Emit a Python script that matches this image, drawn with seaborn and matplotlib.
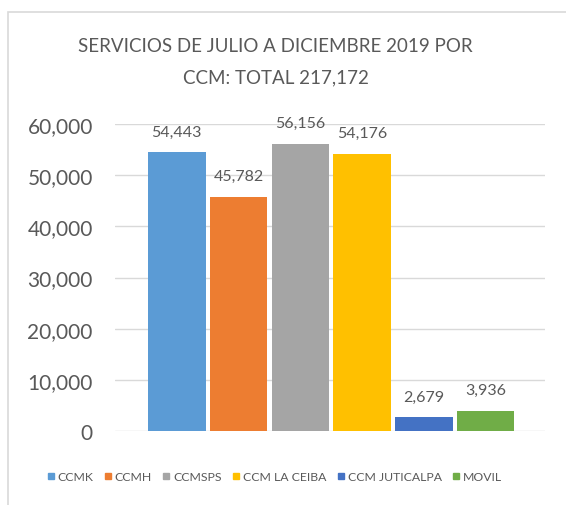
import matplotlib
matplotlib.use("Agg")
import matplotlib.pyplot as plt
import seaborn as sns
import pandas as pd
from matplotlib.lines import Line2D
from matplotlib.patches import Rectangle
from matplotlib.ticker import FuncFormatter

categories = ["CCMK", "CCMH", "CCMSPS", "CCM LA CEIBA", "CCM JUTICALPA", "MOVIL"]
servicios = [54443, 45782, 56156, 54176, 2679, 3936]
colores = ["#5B9BD5", "#ED7D31", "#A5A5A5", "#FFC000", "#4472C4", "#70AD47"]
y_ticks = [0, 10000, 20000, 30000, 40000, 50000, 60000]

df = pd.DataFrame({"ccm": categories, "servicios": servicios})

sns.set_style("white")
plt.rcParams["font.family"] = ["Lato", "DejaVu Sans"]
txt = "#595959"

fig = plt.figure(figsize=(5.66, 5.06), dpi=100)
ax = fig.add_axes([115 / 566, 1 - 432 / 506, 430 / 566, 307 / 506])

sns.barplot(data=df, x="ccm", y="servicios", hue="ccm", palette=colores,
            saturation=1, width=0.93, linewidth=0, legend=False, ax=ax, zorder=3)

for i, v in enumerate(servicios):
    ax.annotate(f"{v:,}", (i, v), xytext=(0, 10), textcoords="offset points",
                ha="center", va="bottom", fontsize=11.5, color=txt)

ax.set_ylim(0, 60000)
ax.set_xlim(-1.0, 5.96)
ax.set_yticks(y_ticks)
ax.yaxis.set_major_formatter(FuncFormatter(lambda v, p: f"{int(v):,}"))
ax.grid(axis="y", color="#D9D9D9", linewidth=1, zorder=0)
ax.set_axisbelow(True)
for s in ax.spines.values():
    s.set_visible(False)
ax.tick_params(axis="y", length=0, pad=16, labelsize=15, labelcolor=txt)
ax.set_xticks([])
ax.set_xlabel("")
ax.set_ylabel("")

fig.text(0.487, 1 - 47 / 506, "SERVICIOS DE JULIO A DICIEMBRE 2019 POR",
         ha="center", va="center", fontsize=13.5, color=txt)
fig.text(0.487, 1 - 78 / 506, "CCM: TOTAL 217,172",
         ha="center", va="center", fontsize=13.5, color=txt)

handles = [Line2D([], [], marker="s", linestyle="", color=c, markersize=4)
           for c in colores]
fig.legend(handles, categories, loc="center", bbox_to_anchor=(0.483, 1 - 478 / 506),
           ncol=6, frameon=False, fontsize=8.8, handletextpad=0.05,
           columnspacing=0.7, handlelength=1.0, labelcolor=txt)

fig.patches.append(Rectangle((8 / 566, -0.02), 1.0, 1 - 13 / 506 + 0.02,
                             transform=fig.transFigure, fill=False,
                             edgecolor="#D9D9D9", linewidth=1.2))

fig.savefig("out.png", dpi=100)
